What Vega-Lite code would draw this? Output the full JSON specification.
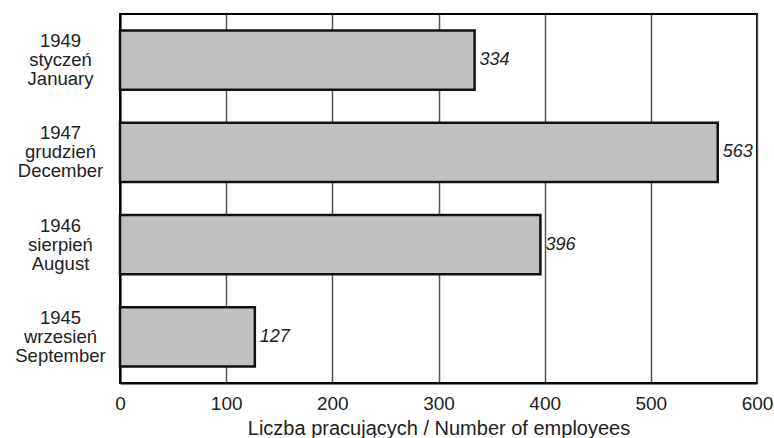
{
  "$schema": "https://vega.github.io/schema/vega-lite/v6.json",
  "width": 637,
  "height": 369,
  "autosize": "none",
  "padding": {"left": 120, "top": 14, "right": 17, "bottom": 55},
  "background": "white",
  "config": {
    "font": "Liberation Sans",
    "view": {"stroke": "black", "strokeWidth": 2},
    "axis": {"labelColor": "#222", "titleColor": "#222"}
  },
  "data": {
    "values": [
      {"period": "1949\nstyczeń\nJanuary", "employees": 334},
      {"period": "1947\ngrudzień\nDecember", "employees": 563},
      {"period": "1946\nsierpień\nAugust", "employees": 396},
      {"period": "1945\nwrzesień\nSeptember", "employees": 127}
    ]
  },
  "encoding": {
    "y": {
      "field": "period",
      "type": "nominal",
      "sort": null,
      "scale": {"paddingInner": 0.36, "paddingOuter": 0.18},
      "axis": {
        "title": null,
        "labelExpr": "split(datum.label, '\\n')",
        "labelAlign": "center",
        "labelPadding": 60,
        "labelOffset": -19,
        "labelFontSize": 18.5,
        "labelLineHeight": 19,
        "labelLimit": 200,
        "ticks": false,
        "domainColor": "black",
        "domainWidth": 2
      }
    },
    "x": {
      "field": "employees",
      "type": "quantitative",
      "scale": {"domain": [0, 600], "nice": false},
      "axis": {
        "title": "Liczba pracujących / Number of employees",
        "titleFontSize": 20,
        "titleFontWeight": "normal",
        "titlePadding": 5,
        "values": [0, 100, 200, 300, 400, 500, 600],
        "labelFontSize": 19,
        "labelPadding": 11,
        "labelFlush": false,
        "labelOverlap": false,
        "ticks": false,
        "grid": true,
        "gridColor": "#555",
        "gridWidth": 1.5,
        "domainColor": "black",
        "domainWidth": 2
      }
    }
  },
  "layer": [
    {
      "mark": {"type": "bar", "fill": "#c0c0c0", "stroke": "#111", "strokeWidth": 2.5}
    },
    {
      "mark": {"type": "text", "align": "left", "dx": 5, "fontSize": 18, "fontStyle": "italic", "color": "#222"},
      "encoding": {"text": {"field": "employees", "type": "quantitative"}}
    }
  ]
}
